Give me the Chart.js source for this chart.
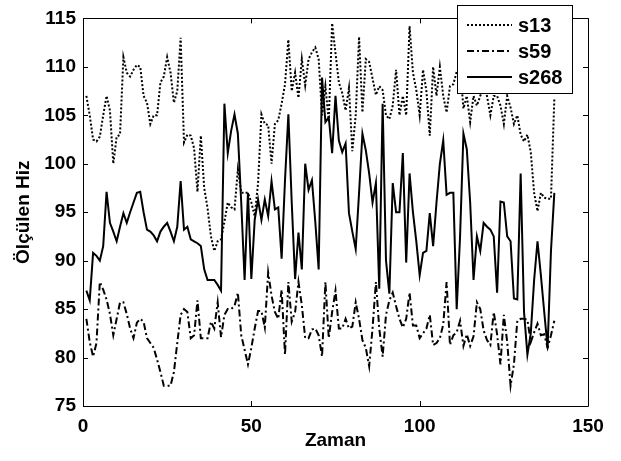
<!DOCTYPE html>
<html>
<head>
<meta charset="utf-8">
<script src="https://cdn.jsdelivr.net/npm/chart.js@4.4.1/dist/chart.umd.min.js"></script>
<style>
  html, body { margin: 0; padding: 0; background: #fff; }
  #wrap { width: 621px; height: 461px; }
</style>
</head>
<body>
<div id="wrap"><canvas id="chart" width="621" height="461"></canvas></div>
<script>
// olcum serileri (zaman = 1..140)
const s13 = [107, 105, 102.5, 102.3, 102.8, 105, 107, 105.5, 100, 102.8,
  103, 111, 109.4, 109, 109.7, 110.2, 110, 107, 106.3, 104.1,
  105, 105, 108.4, 109, 111, 109.4, 106.3, 107.5, 113, 102.2,
  103, 102.9, 101.6, 97.1, 102.9, 97.5, 95.4, 92.5, 91, 92,
  92.2, 94, 96, 95.5, 95.3, 99.4, 97, 97, 97, 96,
  94.6, 98, 105.1, 104.1, 104, 100, 104.1, 104.5, 106.2, 108.2,
  112.8, 107.5, 109.4, 106.8, 110.8, 108.1, 110.8, 111.5, 112, 110.8,
  105, 108, 104.4, 114.5, 111.4, 108.4, 107.3, 105.5, 107.8, 101.3,
  105, 113.1, 105.3, 110.8, 110.5, 108.8, 107.1, 108, 107.6, 105,
  104.6, 106, 109.7, 105, 107, 105, 114.2, 109.4, 107.6, 105,
  109.7, 107.5, 102.9, 110, 107, 110, 107, 105.3, 108, 108.2,
  109.5, 110, 105.7, 107, 104.3, 107, 106, 107, 108, 107,
  105, 107, 107, 106, 104.1, 107, 105.8, 104.1, 105, 103,
  102.3, 103, 101.2, 97, 95.1, 97, 96.5, 96.4, 96.4, 106.7];

const s59 = [84, 81.6, 80.1, 81.5, 87.8, 87, 86, 84.5, 82.3, 84,
  85.7, 85.7, 84.5, 83, 82, 83.6, 84, 83.7, 82, 81.5,
  81, 79.8, 78.5, 77.1, 77.1, 77.1, 78.5, 81.5, 84.4, 85,
  84.7, 82, 82.3, 85.9, 82, 82, 82, 83.7, 83, 85.7,
  82.1, 84.4, 85, 85, 85.3, 86.7, 82.3, 80.8, 79.3, 81,
  83, 84.8, 84.8, 83.1, 88.8, 86.4, 84.7, 84, 87, 80.3,
  87.8, 83.7, 84.7, 87.8, 85.4, 82, 82, 82.9, 83, 82.3,
  80.1, 87.8, 82, 84.7, 86.9, 83, 83, 84, 83, 83.2,
  85.7, 84, 81.8, 81, 79.1, 83, 87.8, 83, 80.1, 84.4,
  85.9, 86.7, 85.3, 84, 83.1, 84, 86.7, 83.3, 83.3, 82,
  82.5, 83, 84.4, 81.3, 81.5, 82, 83.4, 87.8, 81.3, 82.3,
  82.6, 83.8, 81.2, 82.4, 81.2, 82.2, 85.7, 85, 82.8, 81.8,
  81.3, 84.7, 82.4, 79.3, 84.4, 81.6, 77.1, 79.3, 83.8, 84,
  84, 83.9, 81.6, 82.6, 83.5, 82.3, 82.4, 81, 82.3, 83.8];

const s268 = [86.9, 85.9, 90.8, 90.5, 90, 91.5, 97.1, 93.9, 93, 92,
  93.5, 94.9, 93.9, 95, 96, 97, 97.1, 95, 93.2, 93,
  92.6, 92, 93, 93.5, 93.9, 93, 92, 93.5, 98.2, 93.2,
  93.5, 92.2, 92, 91.8, 91.5, 89.1, 88, 88, 88, 87.5,
  86.9, 106.2, 101.1, 103.4, 105.1, 103.1, 96, 88, 97, 88.1,
  94.2, 96.3, 94.2, 96.3, 94.6, 98.2, 95.3, 95.5, 90.2, 98.3,
  105.1, 96, 88.1, 92.9, 89.1, 100, 97.3, 98.3, 94, 89.1,
  108.9, 104.3, 104.8, 101.1, 107, 102.4, 101.2, 102.1, 94.9, 93,
  91.2, 97, 103.1, 101.4, 99, 96, 98, 87.1, 106.2, 90,
  86.6, 98, 95, 95, 101.1, 89.8, 99, 95, 92, 88.5,
  90.8, 91, 94.9, 91.5, 96, 100, 102.4, 96.8, 97, 97,
  85, 92.5, 103.1, 101.5, 96, 88, 92.5, 91, 93.9, 93.5,
  93.2, 92.5, 86.7, 96.1, 96, 92.5, 92, 86.1, 86, 99,
  84.7, 80.3, 82.5, 88, 92, 88.5, 84.7, 81, 91, 97];

const seriesNames = ['s13', 's59', 's268'];
const xTicks = [0, 50, 100, 150];
const yTicks = [75, 80, 85, 90, 95, 100, 105, 110, 115];

const FONT = 'Liberation Sans, Arial, Helvetica, sans-serif';

function toPoints(arr) {
  return arr.map((v, i) => ({ x: i + 1, y: v }));
}

// MATLAB tarzi kutu ve iceri bakan tikler
const boxPlugin = {
  id: 'boxPlugin',
  afterDatasetsDraw(chart) {
    const { ctx, chartArea: a, scales } = chart;
    const len = 5;
    ctx.save();
    ctx.strokeStyle = '#000';
    ctx.lineWidth = 1;
    ctx.beginPath();
    ctx.rect(Math.round(a.left) + 0.5, Math.round(a.top) + 0.5,
      Math.round(a.right - a.left), Math.round(a.bottom - a.top));
    xTicks.forEach(v => {
      const px = Math.round(scales.x.getPixelForValue(v)) + 0.5;
      ctx.moveTo(px, a.bottom); ctx.lineTo(px, a.bottom - len);
      ctx.moveTo(px, a.top); ctx.lineTo(px, a.top + len);
    });
    yTicks.forEach(v => {
      const py = Math.round(scales.y.getPixelForValue(v)) + 0.5;
      ctx.moveTo(a.left, py); ctx.lineTo(a.left + len, py);
      ctx.moveTo(a.right, py); ctx.lineTo(a.right - len, py);
    });
    ctx.stroke();
    ctx.restore();
  },
  afterDraw(chart) {
    // lejant kutusu
    const { ctx } = chart;
    const bx = 457.5, by = 5.5, bw = 115, bh = 88;
    ctx.save();
    ctx.fillStyle = '#fff';
    ctx.fillRect(bx, by, bw, bh);
    ctx.strokeStyle = '#000';
    ctx.lineWidth = 1;
    ctx.strokeRect(bx, by, bw, bh);
    chart.data.datasets.forEach((ds, i) => {
      const y = 25 + i * 26;
      ctx.beginPath();
      ctx.setLineDash(ds.borderDash || []);
      ctx.lineWidth = ds.borderWidth;
      ctx.moveTo(467, y);
      ctx.lineTo(512, y);
      ctx.stroke();
      ctx.setLineDash([]);
      ctx.fillStyle = '#000';
      ctx.font = 'bold 20px ' + FONT;
      ctx.textBaseline = 'middle';
      ctx.fillText(ds.label, 518, y + 1);
    });
    ctx.restore();
  }
};

new Chart(document.getElementById('chart'), {
  type: 'line',
  data: {
    datasets: [
      { label: seriesNames[0], data: toPoints(s13), borderColor: '#000', borderWidth: 2, borderDash: [2, 2] },
      { label: seriesNames[1], data: toPoints(s59), borderColor: '#000', borderWidth: 2, borderDash: [7, 3, 2, 3] },
      { label: seriesNames[2], data: toPoints(s268), borderColor: '#000', borderWidth: 2 }
    ]
  },
  options: {
    responsive: false,
    animation: false,
    elements: { point: { radius: 0 }, line: { tension: 0 } },
    layout: { padding: { top: 13, right: 33, left: 0, bottom: 0 } },
    plugins: { legend: { display: false }, tooltip: { enabled: false } },
    scales: {
      x: {
        type: 'linear', min: 0, max: 150,
        afterBuildTicks: s => { s.ticks = xTicks.map(v => ({ value: v })); },
        grid: { display: false, drawTicks: false },
        border: { display: false },
        ticks: { color: '#000', padding: 9, maxRotation: 0, font: { family: FONT, size: 19, weight: 'bold' } },
        title: { display: true, text: 'Zaman', color: '#000', padding: { top: 9, bottom: 9 },
          font: { family: FONT, size: 19, weight: 'bold' } },
        afterFit: s => { s.height = 55; }
      },
      y: {
        min: 75, max: 115,
        afterBuildTicks: s => { s.ticks = yTicks.map(v => ({ value: v })); },
        grid: { display: false, drawTicks: false },
        border: { display: false },
        ticks: { color: '#000', padding: 7, font: { family: FONT, size: 19, weight: 'bold' } },
        title: { display: true, text: 'Ölçülen Hiz', color: '#000', padding: { top: 12, bottom: 0 },
          font: { family: FONT, size: 19, weight: 'bold' } },
        afterFit: s => { s.width = 83; }
      }
    }
  },
  plugins: [boxPlugin]
});
</script>
</body>
</html>
